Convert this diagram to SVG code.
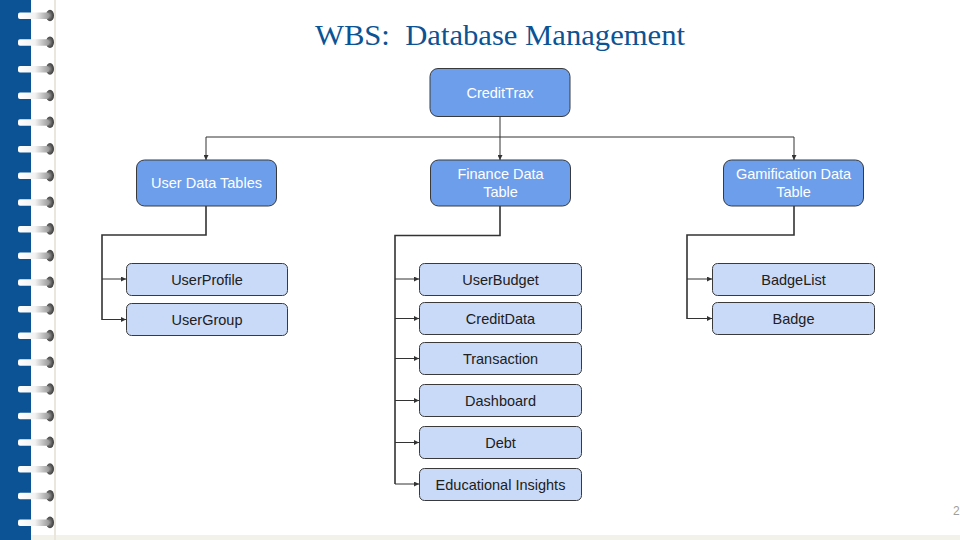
<svg xmlns="http://www.w3.org/2000/svg" width="960" height="540" viewBox="0 0 960 540">
<defs>
<linearGradient id="bar" x1="0" y1="0" x2="1" y2="0">
<stop offset="0" stop-color="#ffffff"/>
<stop offset="0.55" stop-color="#f2f2f2"/>
<stop offset="1" stop-color="#9a9a9a"/>
</linearGradient>
<radialGradient id="hole" cx="0.4" cy="0.5" r="0.6">
<stop offset="0" stop-color="#9a9a9a"/>
<stop offset="0.6" stop-color="#5a5a5a"/>
<stop offset="1" stop-color="#3a3a3a"/>
</radialGradient>
<g id="ring">
<ellipse cx="50" cy="0" rx="4" ry="5.8" fill="url(#hole)"/>
<rect x="18" y="-3" width="31" height="6.5" rx="2" fill="url(#bar)"/>
</g>
<marker id="ah" viewBox="0 0 10 10" refX="10" refY="5" markerWidth="5" markerHeight="5" orient="auto" markerUnits="userSpaceOnUse">
<path d="M0,0 L10,5 L0,10 z" fill="#333333"/>
</marker>
</defs>
<style>
.l1{fill:#6d9eeb;stroke:#3a3a3a;stroke-width:1}
.l3{fill:#c9daf8;stroke:#3a3a3a;stroke-width:1}
.tw{font-family:"Liberation Sans",Arial,sans-serif;font-size:14.5px;fill:#ffffff;text-anchor:middle}
.td{font-family:"Liberation Sans",Arial,sans-serif;font-size:14.5px;fill:#202020;text-anchor:middle}
.c{fill:none;stroke:#333333;stroke-width:1}
.ce{fill:none;stroke:#333333;stroke-width:1.6}
.a{fill:none;stroke:#333333;stroke-width:1;marker-end:url(#ah)}
</style>
<rect x="0" y="0" width="960" height="540" fill="#ffffff"/>
<rect x="0" y="535" width="960" height="5" fill="#f2f1ea"/>
<rect x="0" y="0" width="31" height="540" fill="#0b5394"/>
<rect x="54" y="0" width="2" height="540" fill="#e9e7dc"/>
<g id="binding">
<use href="#ring" y="15.5"/><use href="#ring" y="42.2"/><use href="#ring" y="68.9"/><use href="#ring" y="95.5"/>
<use href="#ring" y="122.2"/><use href="#ring" y="148.9"/><use href="#ring" y="175.6"/><use href="#ring" y="202.2"/>
<use href="#ring" y="228.9"/><use href="#ring" y="255.6"/><use href="#ring" y="282.3"/><use href="#ring" y="309"/>
<use href="#ring" y="335.6"/><use href="#ring" y="362.3"/><use href="#ring" y="389"/><use href="#ring" y="415.7"/>
<use href="#ring" y="442.3"/><use href="#ring" y="469"/><use href="#ring" y="495.7"/><use href="#ring" y="522.4"/>
</g>
<text x="500" y="45" font-family="'Liberation Serif','Times New Roman',serif" font-size="30" fill="#0b5394" text-anchor="middle" textLength="370" lengthAdjust="spacingAndGlyphs" xml:space="preserve">WBS:  Database Management</text>
<text x="953" y="515" font-family="'Liberation Sans',Arial,sans-serif" font-size="12" fill="#9e9e9e">2</text>
<g id="connectors">
<path class="c" d="M500,116 V137"/>
<path class="c" d="M206,137 H794"/>
<path class="a" d="M206,137 V160"/>
<path class="a" d="M500,137 V160"/>
<path class="a" d="M794,137 V160"/>
<path class="ce" d="M206,206 V235 H102 V320"/>
<path class="a" d="M102,279 H126"/>
<path class="a" d="M102,319.5 H126"/>
<path class="ce" d="M500,206 V235.5 H395 V484"/>
<path class="a" d="M395,279 H419"/>
<path class="a" d="M395,318.5 H419"/>
<path class="a" d="M395,358.5 H419"/>
<path class="a" d="M395,400.5 H419"/>
<path class="a" d="M395,442.5 H419"/>
<path class="a" d="M395,484 H419"/>
<path class="ce" d="M794,206 V235 H687 V319"/>
<path class="a" d="M687,279 H712"/>
<path class="a" d="M687,318.5 H712"/>
</g>
<g id="n-credittrax"><rect class="l1" x="430" y="68.5" width="140" height="48" rx="8"/><text class="tw" x="500" y="97.5">CreditTrax</text></g>
<g id="n-userdata"><rect class="l1" x="136.5" y="160" width="140" height="46" rx="8"/><text class="tw" x="206.5" y="188">User Data Tables</text></g>
<g id="n-finance"><rect class="l1" x="430.5" y="160" width="140" height="46" rx="8"/><text class="tw" x="500.5" y="179">Finance Data</text><text class="tw" x="500.5" y="196.5">Table</text></g>
<g id="n-gamification"><rect class="l1" x="723.5" y="160" width="140" height="46" rx="8"/><text class="tw" x="793.5" y="179">Gamification Data</text><text class="tw" x="793.5" y="196.5">Table</text></g>
<g id="n-userprofile"><rect class="l3" x="126.5" y="263.5" width="161" height="32" rx="5"/><text class="td" x="207" y="284.5">UserProfile</text></g>
<g id="n-usergroup"><rect class="l3" x="126.5" y="303.5" width="161" height="32" rx="5"/><text class="td" x="207" y="324.5">UserGroup</text></g>
<g id="n-userbudget"><rect class="l3" x="419.5" y="263.5" width="162" height="32" rx="5"/><text class="td" x="500.5" y="284.5">UserBudget</text></g>
<g id="n-creditdata"><rect class="l3" x="419.5" y="302.5" width="162" height="32" rx="5"/><text class="td" x="500.5" y="323.5">CreditData</text></g>
<g id="n-transaction"><rect class="l3" x="419.5" y="342.5" width="162" height="32" rx="5"/><text class="td" x="500.5" y="363.5">Transaction</text></g>
<g id="n-dashboard"><rect class="l3" x="419.5" y="384.5" width="162" height="32" rx="5"/><text class="td" x="500.5" y="405.5">Dashboard</text></g>
<g id="n-debt"><rect class="l3" x="419.5" y="426.5" width="162" height="32" rx="5"/><text class="td" x="500.5" y="447.5">Debt</text></g>
<g id="n-educational"><rect class="l3" x="419.5" y="468.5" width="162" height="32" rx="5"/><text class="td" x="500.5" y="489.5">Educational Insights</text></g>
<g id="n-badgelist"><rect class="l3" x="712.5" y="263.5" width="162" height="32" rx="5"/><text class="td" x="793.5" y="284.5">BadgeList</text></g>
<g id="n-badge"><rect class="l3" x="712.5" y="302.5" width="162" height="32" rx="5"/><text class="td" x="793.5" y="323.5">Badge</text></g>
</svg>
